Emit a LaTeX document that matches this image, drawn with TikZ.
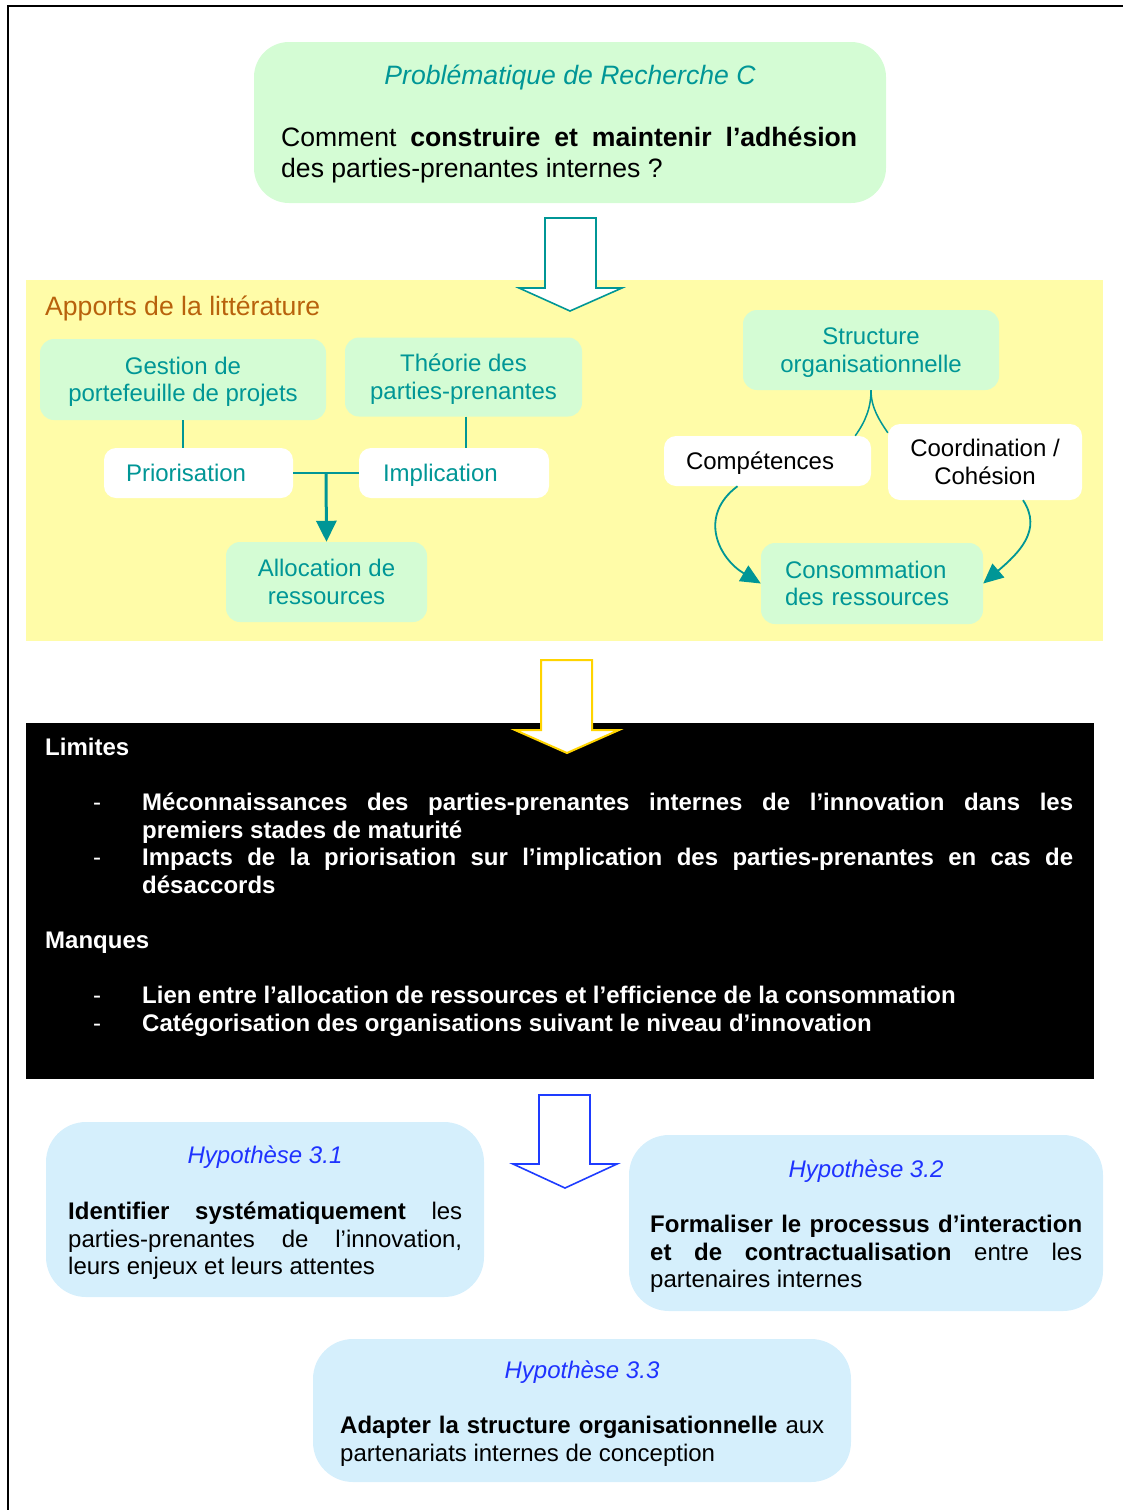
\documentclass[tikz,border=0pt]{standalone}
\usepackage{fontspec}
\setmainfont{Liberation Sans}
\usetikzlibrary{arrows.meta,calc}
\definecolor{tealc}{RGB}{0,150,150}
\definecolor{mint}{RGB}{212,252,212}
\definecolor{paleyel}{RGB}{255,252,168}
\definecolor{ochre}{RGB}{184,98,12}
\definecolor{paleblue}{RGB}{213,239,252}
\definecolor{hypblue}{RGB}{30,50,255}
\definecolor{arrowyel}{RGB}{255,212,0}
\definecolor{arrowblue}{RGB}{30,60,255}
\newcommand\fsA{\fontsize{26.6}{30.6}\selectfont}
\newcommand\fsB{\fontsize{24}{27.6}\selectfont}
\newcommand\stT{\rule{0pt}{22.7pt}}
\newcommand\stB{\rule[-5.5pt]{0pt}{5.5pt}}
\newcommand\twoL[2]{\stT #1\\#2\stB}
\newcommand\oneL[1]{\stT\stB #1}
\tolerance=10000 \hbadness=10000 \hyphenpenalty=10000 \exhyphenpenalty=10000
\tikzset{
 gbox/.style={fill=mint, text=tealc, rounded corners=14pt, inner sep=0pt, align=center, font=\fsB},
 wbox/.style={fill=white, rounded corners=12pt, inner sep=0pt, font=\fsB},
 hbox/.style={fill=paleblue, rounded corners=40pt, inner sep=0pt},
 dims/.style 2 args={minimum width=#1pt, minimum height=#2pt},
 txt/.style={inner sep=0pt, anchor=base west},
 jtxt/.style={txt, align=justify, text width=#1},
 link/.style={draw=tealc, line width=1.8pt},
 curvearrow/.style={link, -{Triangle[length=20pt,width=18pt]}},
 blockarrow/.style={fill=white, line width=1.6pt, line join=miter},
 limtxt/.style={txt, text=white, font=\fsB\bfseries},
 dashtxt/.style={txt, text=white, font=\fsB},
 hyptitle/.style={inner sep=0pt, anchor=base, text=hypblue, font=\fsB\itshape},
}
\begin{document}
\begin{tikzpicture}[x=1pt,y=-1pt]
\useasboundingbox (0,0) rectangle (1123,1510);
\draw[line width=2pt] (8,1510) -- (8,6) -- (1123,6);

% top problem box
\node[fill=mint, rounded corners=35pt, inner sep=0pt, dims={632}{161}] (prob) at (570,122.5) {};
\node[inner sep=0pt, anchor=base, text=tealc, font=\fsA\itshape] (probtitle) at (570,84.5) {Problématique de Recherche C};
\node[jtxt=576pt, font=\fsA] (probbody) at (281,146.5) {Comment \textbf{construire et maintenir l’adhésion}\linebreak des parties-prenantes internes ?};

% literature area
\node[fill=paleyel, inner sep=0pt, dims={1077}{361}, anchor=north west] (lit) at (26,280) {};
\node[txt, text=ochre, font=\fsA] (littitle) at (45,315.5) {Apports de la littérature};

\node[gbox, dims={286}{81}] (gestion) at (183,379.5) {\twoL{Gestion de}{portefeuille de projets}};
\node[gbox, dims={237}{79}] (theorie) at (463.5,377) {\twoL{Théorie des}{parties-prenantes}};
\node[wbox, text=tealc, minimum height=50pt, text width=145pt, inner xsep=22pt, align=left] (prior) at (198.5,473) {\oneL{Priorisation}};
\node[wbox, text=tealc, minimum height=50pt, text width=142pt, inner xsep=24pt, align=left] (impl) at (454,473) {\oneL{Implication}};
\node[gbox, dims={201}{80}] (alloc) at (326.5,582) {\twoL{Allocation de}{ressources}};

\node[gbox, dims={256}{80}] (struct) at (871,350) {\twoL{Structure}{organisationnelle}};
\node[wbox, text=black, minimum height=50pt, text width=163pt, inner xsep=22pt, align=left] (comp) at (767.5,461) {\oneL{Compétences}};
\node[wbox, text=black, align=center, dims={194}{76}] (coord) at (985,462) {\twoL{Coordination /}{Cohésion}};
\node[gbox, minimum height=81pt, text width=174pt, inner xsep=24pt, align=left] (conso) at (872,583.5) {\twoL{Consommation}{des ressources}};

\draw[link] (gestion.south) -- (gestion.south |- prior.north);
\draw[link] ([xshift=2.5pt]theorie.south) -- ([xshift=2.5pt]theorie.south |- impl.north);
\draw[link] (prior.east) -- (impl.west);
\coordinate (mid) at ($(prior.east)!0.5!(impl.west)$);
\draw[draw=tealc, line width=3pt, -{Triangle[length=21pt,width=20pt]}] (mid) -- (alloc.north);

\draw[link, line width=1.5pt] (struct.south) .. controls +(0,18) and +(10,-14) .. ([xshift=-16pt]comp.north east);
\draw[link, line width=1.5pt] (struct.south) .. controls +(0,18) and +(-8,-12) .. ([yshift=-9pt]coord.north west);
\draw[curvearrow] ([xshift=-30pt]comp.south) .. controls +(-40,30) and +(-42,-25) .. (conso.west);
\draw[curvearrow] ([xshift=38pt]coord.south) .. controls +(20,30) and +(35,-30) .. (conso.east);

% limits box
\node[fill=black, inner sep=0pt, dims={1068}{356}, anchor=north west] (limbox) at (26,723) {};
\node[limtxt] (limites) at (45,755.6) {Limites};
\node[dashtxt] (d1) at (93,810.6) {-};
\node[limtxt, align=justify, text width=931pt] (l1) at (142,810.6) {Méconnaissances des parties-prenantes internes de l’innovation dans les\linebreak premiers stades de maturité};
\node[dashtxt] (d2) at (93,865.6) {-};
\node[limtxt, align=justify, text width=931pt] (l2) at (142,865.6) {Impacts de la priorisation sur l’implication des parties-prenantes en cas de\linebreak désaccords};
\node[limtxt] (manques) at (45,948.6) {Manques};
\node[dashtxt] (d3) at (93,1003.6) {-};
\node[limtxt] (m1) at (142,1003.6) {Lien entre l’allocation de ressources et l’efficience de la consommation};
\node[dashtxt] (d4) at (93,1031.6) {-};
\node[limtxt] (m2) at (142,1031.6) {Catégorisation des organisations suivant le niveau d’innovation};

% hypotheses
\node[hbox, dims={438}{175}] (hyp1) at (265,1209.5) {};
\node[hyptitle] (hyp1t) at (265,1163.6) {Hypothèse 3.1};
\node[jtxt=394pt, font=\fsB] (hyp1b) at (68,1219.6) {\textbf{Identifier systématiquement} les\linebreak parties-prenantes de l’innovation,\linebreak leurs enjeux et leurs attentes};

\node[hbox, dims={474}{176}] (hyp2) at (866,1223) {};
\node[hyptitle] (hyp2t) at (866,1177.6) {Hypothèse 3.2};
\node[jtxt=432pt, font=\fsB] (hyp2b) at (650,1232.6) {\textbf{Formaliser le processus d’interaction}\linebreak \textbf{et de contractualisation} entre les\linebreak partenaires internes};

\node[hbox, dims={538}{143}] (hyp3) at (582,1410.5) {};
\node[hyptitle] (hyp3t) at (582,1378.6) {Hypothèse 3.3};
\node[jtxt=484pt, font=\fsB] (hyp3b) at (340,1433.6) {\textbf{Adapter la structure organisationnelle} aux\linebreak partenariats internes de conception};

% block arrows
\draw[blockarrow, draw=tealc] (545,218) -- (596,218) -- (596,288) -- (622,288) -- (570,311) -- (519,288) -- (545,288) -- cycle;
\draw[blockarrow, draw=arrowyel, line width=2pt] (541,660) -- (592,660) -- (592,730) -- (619,730) -- (567,753) -- (515,730) -- (541,730) -- cycle;
\draw[blockarrow, draw=arrowblue] (539,1095) -- (590,1095) -- (590,1164) -- (617,1164) -- (565,1188) -- (513,1164) -- (539,1164) -- cycle;
\end{tikzpicture}
\end{document}
